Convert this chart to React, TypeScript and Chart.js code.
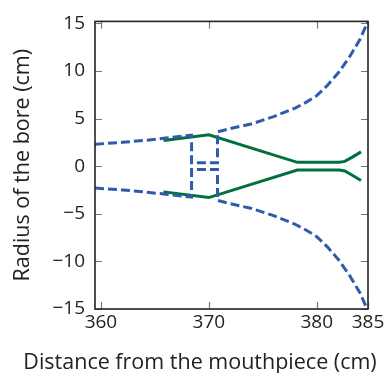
import React, { useEffect, useRef } from "react";
import { Chart, registerables } from "chart.js";

Chart.register(...registerables);

// Bore outline (upper half), dashed blue
const boreX = [359.45, 362, 364, 366, 368.4, 368.4, 370.8, 370.8, 372, 374, 376, 378, 379, 380, 381, 382, 383, 384, 384.75];
const boreUpperY = [2.3, 2.5, 2.7, 2.95, 3.25, 0.35, 0.35, 3.6, 3.95, 4.45, 5.2, 6.1, 6.7, 7.4, 8.5, 9.8, 11.4, 13.3, 15.2];
const boreLowerY = [-2.3, -2.5, -2.7, -2.95, -3.25, -0.35, -0.35, -3.6, -3.95, -4.45, -5.2, -6.1, -6.7, -7.4, -8.5, -9.8, -11.4, -13.3, -15.2];

// Mouthpiece/valve profile, solid green
const profileX = [365.8, 370, 378.2, 382.1, 382.6, 383.3, 384.1];
const profileUpperY = [2.7, 3.3, 0.4, 0.4, 0.5, 0.95, 1.5];
const profileLowerY = [-2.7, -3.3, -0.4, -0.4, -0.5, -0.95, -1.5];

const xTickValues = [360, 370, 380, 384.75];
const xTickLabels = ["360", "370", "380", "385"];
const yTickValues = [-15, -10, -5, 0, 5, 10, 15];
const xTitle = "Distance from the mouthpiece (cm)";
const yTitle = "Radius of the bore (cm)";

const BLUE = "#2f5bab";
const GREEN = "#00703c";
const FONT = "'Open Sans', sans-serif";
const TITLE_SIZE = 21.5;

const pts = (xs: number[], ys: number[]) => xs.map((x, i) => ({ x, y: ys[i] }));

const framePlugin = {
  id: "frame",
  afterDatasetsDraw(chart: any) {
    const { ctx, chartArea, scales } = chart;
    const { left, right, top, bottom } = chartArea;
    ctx.save();
    ctx.strokeStyle = "#777";
    ctx.lineWidth = 1.2;
    const tl = 7;
    xTickValues.forEach((v) => {
      const px = Math.round(scales.x.getPixelForValue(v)) + 0.5;
      ctx.beginPath();
      ctx.moveTo(px, bottom);
      ctx.lineTo(px, bottom - tl);
      ctx.moveTo(px, top);
      ctx.lineTo(px, top + tl);
      ctx.stroke();
    });
    yTickValues.forEach((v) => {
      const py = Math.round(scales.y.getPixelForValue(v)) + 0.5;
      ctx.beginPath();
      ctx.moveTo(left, py);
      ctx.lineTo(left + tl, py);
      ctx.moveTo(right, py);
      ctx.lineTo(right - tl, py);
      ctx.stroke();
    });
    ctx.strokeStyle = "#222";
    ctx.lineWidth = 1.6;
    ctx.strokeRect(left, top, right - left, bottom - top);
    // x-axis title (drawn manually so it is not squeezed to the chart width)
    ctx.fillStyle = "#222";
    ctx.font = `${TITLE_SIZE}px ${FONT}`;
    ctx.textAlign = "center";
    ctx.textBaseline = "alphabetic";
    ctx.fillText(xTitle, 200, 369);
    ctx.restore();
  },
};

export default function App() {
  const ref = useRef<HTMLCanvasElement | null>(null);
  useEffect(() => {
    if (!ref.current) return;
    const lineDs = (data: any[], color: string, dashed: boolean) => ({
      data,
      borderColor: color,
      backgroundColor: color,
      borderWidth: 3,
      borderDash: dashed ? [9, 4] : [],
      pointRadius: 0,
      showLine: true,
      fill: false,
      tension: 0,
    });
    const chart = new Chart(ref.current, {
      type: "scatter",
      data: {
        datasets: [
          lineDs(pts(boreX, boreUpperY), BLUE, true),
          lineDs(pts(boreX, boreLowerY), BLUE, true),
          lineDs(pts(profileX, profileUpperY), GREEN, false),
          lineDs(pts(profileX, profileLowerY), GREEN, false),
        ],
      },
      options: {
        animation: false,
        responsive: true,
        maintainAspectRatio: false,
        layout: { padding: { top: 15, right: 19, left: 0, bottom: 0 } },
        plugins: { legend: { display: false }, tooltip: { enabled: false } },
        scales: {
          x: {
            type: "linear",
            min: 359.45,
            max: 384.75,
            grid: { display: false, drawTicks: false },
            border: { display: false },
            afterBuildTicks: (s: any) => {
              s.ticks = xTickValues.map((value) => ({ value }));
            },
            afterFit: (s: any) => {
              s.height = 64;
            },
            ticks: {
              autoSkip: false,
              maxRotation: 0,
              padding: 2,
              color: "#222",
              font: { family: FONT, size: 19 },
              callback: (v: any) => {
                const i = xTickValues.indexOf(Number(v));
                return i >= 0 ? xTickLabels[i] : "";
              },
            },
            title: { display: false },
          },
          y: {
            type: "linear",
            min: -15,
            max: 15.2,
            grid: { display: false, drawTicks: false },
            border: { display: false },
            afterBuildTicks: (s: any) => {
              s.ticks = yTickValues.map((value) => ({ value }));
            },
            afterFit: (s: any) => {
              s.width = 95;
            },
            ticks: {
              autoSkip: false,
              padding: 10,
              color: "#222",
              font: { family: FONT, size: 19 },
              callback: (v: any) => {
                const n = Number(v);
                return n < 0 ? "\u2212" + Math.abs(n) : String(n);
              },
            },
            title: {
              display: true,
              text: yTitle,
              color: "#222",
              font: { family: FONT, size: TITLE_SIZE },
              padding: { top: 10, bottom: 0 },
            },
          },
        },
      },
      plugins: [framePlugin],
    } as any);
    return () => chart.destroy();
  }, []);
  return (
    <div style={{ position: "fixed", left: 0, top: 0, width: 387, height: 373, background: "#fff" }}>
      <canvas ref={ref} />
    </div>
  );
}
